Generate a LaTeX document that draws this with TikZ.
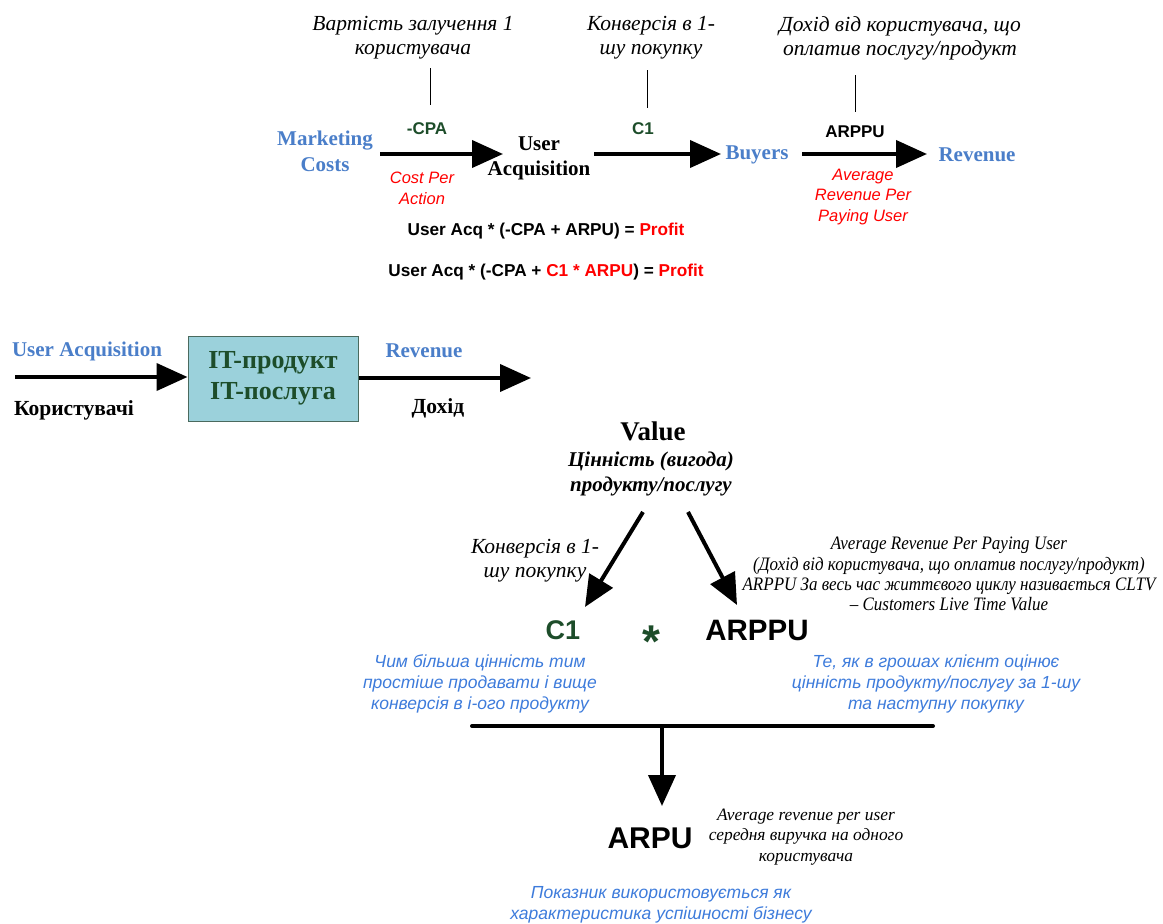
\documentclass[tikz,border=0pt]{standalone}
\usepackage{fontspec}
\setmainfont{Liberation Serif}
\setsansfont{Liberation Sans}
\newfontfamily\narrowserif[FakeStretch=0.895]{Liberation Serif}
\usetikzlibrary{arrows.meta}

\definecolor{hdblue}{HTML}{4A7EC9}
\definecolor{txtblue}{HTML}{3D7BDB}
\definecolor{dgreen}{HTML}{1D4D2A}
\definecolor{boxfill}{HTML}{9BD1DB}
\definecolor{boxline}{HTML}{4A6A5E}

\tikzset{
  every node/.style={inner sep=0pt, align=center},
  note/.style={font=\fontsize{21.5}{24}\selectfont\itshape},
  head/.style={font=\fontsize{21}{26}\selectfont\bfseries, text=hdblue},
  blackhead/.style={font=\fontsize{21}{25}\selectfont\bfseries},
  metric/.style={font=\sffamily\bfseries\fontsize{17}{19}\selectfont},
  redsans/.style={font=\sffamily\itshape\fontsize{16.5}{20.7}\selectfont, text=red},
  formula/.style={font=\sffamily\bfseries\fontsize{17.2}{19}\selectfont},
  bignum/.style={font=\sffamily\bfseries\fontsize{27}{30}\selectfont},
  bluenote/.style={font=\sffamily\itshape\fontsize{17.5}{21}\selectfont, text=txtblue},
  smallnote/.style={font=\fontsize{17.4}{20.5}\selectfont\itshape},
  narrownote/.style={font=\narrowserif\itshape\fontsize{19}{20.3}\selectfont},
  flow/.style={line width=4pt, -{Triangle[length=31pt,width=27pt]}},
  tick/.style={line width=0.8pt},
}

\begin{document}
\begin{tikzpicture}[x=1pt, y=-1pt]
  \useasboundingbox (0,0) rectangle (1163,924);

  % ---------- top chain: costs -> users -> buyers -> revenue ----------
  \node[note] (n1) at (413,38) {Вартість залучення 1\\користувача};
  \node[note] (n2) at (651,38) {Конверсія в 1-\\шу покупку};
  \node[note] (n3) at (900,38) {Дохід від користувача, що\\оплатив послугу/продукт};

  \node[head] (mc) at (325,151) {Marketing\\Costs};
  \node[blackhead] (ua) at (539,158) {User\\Acquisition};
  \node[head] (buy) at (757,155) {Buyers};
  \node[head] (rev) at (977,155) {Revenue};

  \node[metric, text=dgreen] (cpa) at (427,129) {-CPA};
  \node[metric, text=dgreen] (c1a) at (643,129) {C1};
  \node[metric] (arppua) at (855,132) {ARPPU};

  \node[redsans] (cpadef) at (422,188) {Cost Per\\Action};
  \node[redsans] (arppudef) at (863,197) {Average\\Revenue Per\\Paying User};

  \coordinate (t1a) at (430,68);  \coordinate (t1b) at (430,105);
  \coordinate (t2a) at (647,70);  \coordinate (t2b) at (647,108);
  \coordinate (t3a) at (855,75);  \coordinate (t3b) at (855,112);
  \draw[tick] (t1a) -- (t1b);
  \draw[tick] (t2a) -- (t2b);
  \draw[tick] (t3a) -- (t3b);

  \coordinate (f1a) at (380,154); \coordinate (f1b) at (503,154);
  \coordinate (f2a) at (594,154); \coordinate (f2b) at (721,154);
  \coordinate (f3a) at (802,154); \coordinate (f3b) at (927,154);
  \draw[flow] (f1a) -- (f1b);
  \draw[flow] (f2a) -- (f2b);
  \draw[flow] (f3a) -- (f3b);

  \node[formula] (eq1) at (546,231) {User Acq * (-CPA + ARPU) = \textcolor{red}{Profit}};
  \node[formula] (eq2) at (546,272) {User Acq * (-CPA + \textcolor{red}{C1 * ARPU}) = \textcolor{red}{Profit}};

  % ---------- product block ----------
  \node[head] (uain) at (87,351) {User Acquisition};
  \node[draw=boxline, line width=1pt, fill=boxfill, minimum width=170pt, minimum height=85pt,
        font=\fontsize{26}{31}\selectfont\bfseries, text=dgreen] (prod) at (273,378.5)
        {IT-продукт\\IT-послуга};
  \node[head] (revout) at (424,351) {Revenue};
  \node[font=\fontsize{21.5}{24}\selectfont\bfseries] (users) at (74,410) {Користувачі};
  \node[font=\fontsize{21.5}{24}\selectfont\bfseries] (income) at (438,408) {Дохід};

  \coordinate (pin) at (15,377);
  \coordinate (pout) at (531,378);
  \draw[flow] (pin) -- (prod.west |- pin);
  \draw[flow] (prod.east |- pout) -- (pout);

  % ---------- value decomposition ----------
  \node[font=\fontsize{27}{30}\selectfont\bfseries] (value) at (653,431) {Value};
  \node[font=\bfseries\itshape\fontsize{21}{25}\selectfont] (valdef) at (651,474)
        {Цінність (вигода)\\продукту/послугу};

  \node[note] (convnote) at (535,561) {Конверсія в 1-\\шу покупку};
  \node[narrownote] (arppunote) at (949,574)
        {Average Revenue Per Paying User\\(Дохід від користувача, що оплатив послугу/продукт)\\ARPPU За весь час життєвого циклу називається CLTV\\– Customers Live Time Value};

  \node[bignum, text=dgreen] (c1) at (563,630) {C1};
  \node[font=\sffamily\bfseries\fontsize{46}{46}\selectfont, text=dgreen, anchor=base] (times) at (651,657) {*};
  \node[font=\sffamily\bfseries\fontsize{29.5}{31}\selectfont] (arppu) at (757,630) {ARPPU};

  \node[bluenote] (c1note) at (480,684) {Чим більша цінність тим\\простіше продавати і вище\\конверсія в і-ого продукту};
  \node[bluenote] (arppudesc) at (936,684) {Те, як в грошах клієнт оцінює\\цінність продукту/послугу за 1-шу\\та наступну покупку};

  \coordinate (d1a) at (643,512); \coordinate (d1b) at (585,607);
  \coordinate (d2a) at (688,512); \coordinate (d2b) at (737,605);
  \draw[flow] (d1a) -- (d1b);
  \draw[flow] (d2a) -- (d2b);

  \coordinate (barl) at (472,726); \coordinate (barr) at (933,726);
  \coordinate (barm) at (662,726); \coordinate (arpuarrow) at (662,806);
  \draw[line width=4pt, line cap=round] (barl) -- (barr);
  \draw[flow] (barm) -- (arpuarrow);

  \node[font=\sffamily\bfseries\fontsize{30}{32}\selectfont] (arpu) at (650,838) {ARPU};
  \node[smallnote] (arpunote) at (806,837) {Average revenue per user\\середня виручка на одного\\користувача};
  \node[bluenote] (arpudesc) at (661,905)
        {Показник використовується як\\характеристика успішності бізнесу};
\end{tikzpicture}
\end{document}
